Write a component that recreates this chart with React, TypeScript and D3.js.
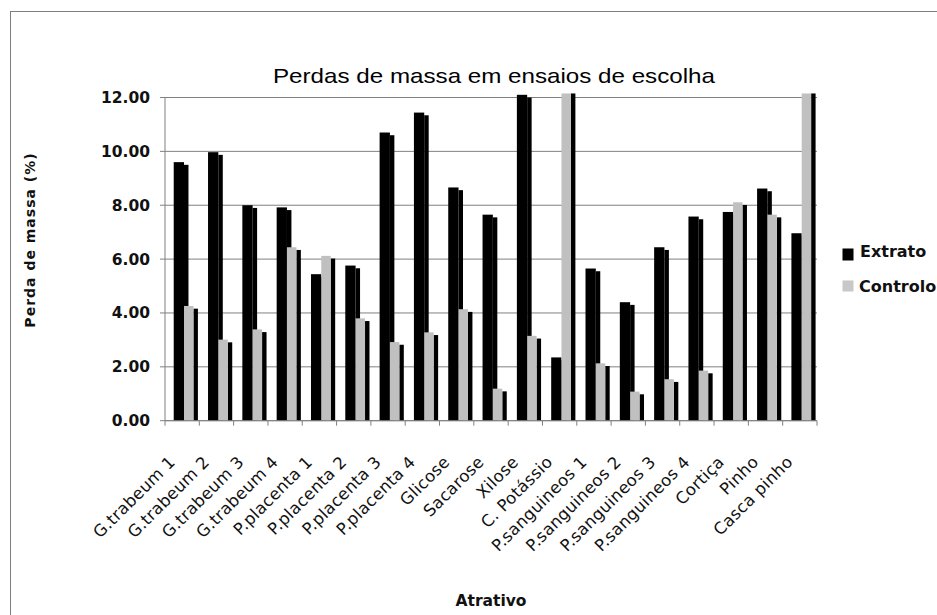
import React from "react";
import * as d3 from "d3";

const categories = [
  "G.trabeum 1", "G.trabeum 2", "G.trabeum 3", "G.trabeum 4",
  "P.placenta 1", "P.placenta 2", "P.placenta 3", "P.placenta 4",
  "Glicose", "Sacarose", "Xilose", "C. Potássio",
  "P.sanguineos 1", "P.sanguineos 2", "P.sanguineos 3", "P.sanguineos 4",
  "Cortiça", "Pinho", "Casca pinho",
];

// values; bars above 12 are cut off by the axis
const extrato = [9.6, 9.97, 8.0, 7.92, 5.44, 5.76, 10.7, 11.44, 8.66, 7.65, 12.1, 2.35, 5.65, 4.4, 6.44, 7.58, 7.75, 8.62, 6.96];
const controlo = [4.26, 3.01, 3.39, 6.44, 6.12, 3.8, 2.92, 3.28, 4.14, 1.19, 3.15, 12.5, 2.13, 1.08, 1.54, 1.86, 8.11, 7.65, 12.5];

const yTicks = [0, 2, 4, 6, 8, 10, 12];

const SANS = "'DejaVu Sans', Verdana, sans-serif";
const ARIAL = "'Liberation Sans', Arial, sans-serif";

const App: React.FC = () => {
  const width = 937;
  const height = 615;
  const left = 165;
  const right = 817;
  const top = 97.5;
  const bottom = 420.7;

  const x = d3.scaleBand<string>().domain(categories).range([left, right]).padding(0);
  const y = d3.scaleLinear().domain([0, 12]).range([bottom, top]);
  const yMaxDraw = y(12.15);
  const fmt = d3.format(".2f");

  const bw = x.bandwidth();
  const off = bw * 0.254;
  const frontW = bw * 0.3;
  const grayW = bw * 0.275;
  const sideW = bw * 0.13;
  const step = 2.7;

  const topOf = (v: number) => Math.max(y(v), yMaxDraw);
  const sideTop = (v: number) => Math.max(y(v) + step, yMaxDraw);

  return (
    <svg
      width={width}
      height={height}
      style={{ position: "absolute", left: 0, top: 0, display: "block", background: "#fff" }}
      fontFamily={SANS}
    >
      {/* chart border */}
      <rect x={10.5} y={11.5} width={960} height={640} fill="none" stroke="#7f7f7f" strokeWidth={1} />

      <text x={494} y={83} textAnchor="middle" fontSize={21} fontFamily={ARIAL} fill="#000" textLength={442} lengthAdjust="spacingAndGlyphs">
        Perdas de massa em ensaios de escolha
      </text>

      {/* gridlines + y ticks */}
      {yTicks.map((t) => (
        <g key={t}>
          <line x1={left} x2={right} y1={y(t)} y2={y(t)} stroke="#808080" strokeWidth={1} />
          <line x1={left - 5} x2={left} y1={y(t)} y2={y(t)} stroke="#808080" strokeWidth={1} />
          <text x={150} y={y(t) + 5.5} textAnchor="end" fontSize={15.5} fontWeight="bold" fill="#111">
            {fmt(t)}
          </text>
        </g>
      ))}

      {/* bars */}
      {categories.map((c, i) => {
        const x0 = (x(c) as number) + off;
        const e = extrato[i];
        const g = controlo[i];
        return (
          <g key={c}>
            <rect x={x0 + frontW} y={sideTop(e)} width={sideW} height={bottom - sideTop(e)} fill="#000" />
            <rect x={x0} y={topOf(e)} width={frontW} height={bottom - topOf(e)} fill="#000" />
            <rect x={x0 + frontW + grayW} y={sideTop(g)} width={sideW} height={bottom - sideTop(g)} fill="#000" />
            <rect x={x0 + frontW} y={topOf(g)} width={grayW} height={bottom - topOf(g)} fill="#c0c0c0" />
          </g>
        );
      })}

      {/* axes */}
      <line x1={left} x2={left} y1={top} y2={bottom} stroke="#808080" />
      <line x1={left} x2={right} y1={bottom} y2={bottom} stroke="#808080" />
      {categories.concat([""]).map((c, i) => {
        const xx = left + i * bw;
        return <line key={"t" + i} x1={xx} x2={xx} y1={bottom} y2={bottom + 5} stroke="#808080" />;
      })}

      {/* category labels */}
      {categories.map((c) => {
        const cx = (x(c) as number) + bw / 2 - 6;
        const cy = 463;
        return (
          <text
            key={"l" + c}
            x={cx}
            y={cy}
            transform={`rotate(-45, ${cx}, ${cy})`}
            textAnchor="end"
            fontSize={16.5}
            letterSpacing={0.3}
            fill="#111"
          >
            {c}
          </text>
        );
      })}

      <text
        x={35}
        y={240}
        transform="rotate(-90, 35, 240)"
        textAnchor="middle"
        fontSize={14}
        fontWeight="bold"
        letterSpacing={1}
        fill="#111"
      >
        Perda de massa (%)
      </text>

      <text x={491} y={606} textAnchor="middle" fontSize={15.5} fontWeight="bold" fill="#111">
        Atrativo
      </text>

      {/* legend */}
      <rect x={842.5} y={248.5} width={11} height={12} fill="#000" />
      <text x={860} y={257} fontSize={16} fontWeight="bold" fill="#111">Extrato</text>
      <rect x={842.5} y={280.5} width={11} height={11} fill="#c8c8c8" />
      <text x={859} y={291.5} fontSize={16} fontWeight="bold" fill="#111">Controlo</text>
    </svg>
  );
};

export default App;
